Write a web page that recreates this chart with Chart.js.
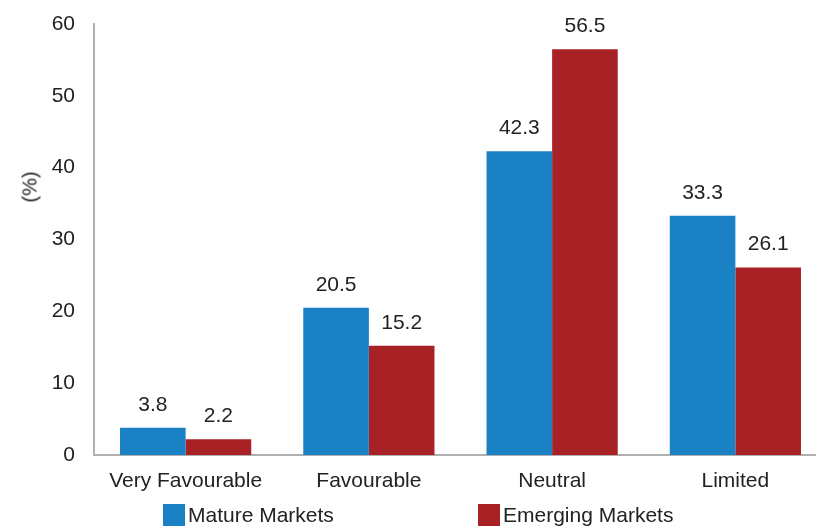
<!DOCTYPE html>
<html>
<head>
<meta charset="utf-8">
<script src="https://cdn.jsdelivr.net/npm/chart.js@4/dist/chart.umd.min.js"></script>
<style>
  html, body { margin: 0; padding: 0; background: #fff; overflow: hidden; }
  #wrap { position: relative; width: 830px; height: 526px; }
  #yTitle {
    position: absolute; left: 30px; top: 187px;
    transform: translate(-50%, -50%) rotate(-90deg);
    font: 20px "Liberation Sans", Arial, sans-serif; color: #222; white-space: nowrap;
  }
  #legend { position: absolute; top: 503px; left: 0; font: 21px "Liberation Sans", Arial, sans-serif; color: #222; }
  #legend span.item { position: absolute; white-space: nowrap; display: flex; align-items: center; }
  #legend i { display: inline-block; width: 22px; height: 22px; margin-right: 3px; }
</style>
</head>
<body>
<div id="wrap">
  <canvas id="marketChart"></canvas>
  <div id="yTitle">(%)</div>
  <div id="legend"></div>
</div>
<script>
const categories = ["Very Favourable", "Favourable", "Neutral", "Limited"];
const matureMarkets = [3.8, 20.5, 42.3, 33.3];
const emergingMarkets = [2.2, 15.2, 56.5, 26.1];
const seriesNames = ["Mature Markets", "Emerging Markets"];
const seriesColors = ["#1b81c5", "#a82125"];
const legendLeft = [163, 478];

const fontFamily = '"Liberation Sans", Arial, sans-serif';

const valueLabels = {
  id: "valueLabels",
  afterDatasetsDraw(chart) {
    const ctx = chart.ctx;
    ctx.save();
    ctx.font = `21px ${fontFamily}`;
    ctx.fillStyle = "#222";
    ctx.textAlign = "center";
    ctx.textBaseline = "middle";
    chart.data.datasets.forEach((ds, i) => {
      chart.getDatasetMeta(i).data.forEach((bar, j) => {
        ctx.fillText(ds.data[j].toFixed(1), bar.x, bar.y - 23);
      });
    });
    ctx.restore();
  }
};

new Chart(document.getElementById("marketChart"), {
  type: "bar",
  data: {
    labels: categories,
    datasets: [
      { label: seriesNames[0], data: matureMarkets, backgroundColor: seriesColors[0] },
      { label: seriesNames[1], data: emergingMarkets, backgroundColor: seriesColors[1] }
    ]
  },
  options: {
    responsive: true,
    maintainAspectRatio: false,
    animation: false,
    layout: { padding: { top: 24, right: 3, left: 0, bottom: 0 } },
    datasets: { bar: { barPercentage: 1, categoryPercentage: 0.716 } },
    plugins: { legend: { display: false }, tooltip: { enabled: false } },
    scales: {
      x: {
        grid: { display: false, drawTicks: false },
        border: { color: "#b0b0b0", width: 2 },
        ticks: { color: "#222", font: { size: 21, family: fontFamily }, padding: 14, maxRotation: 0 },
        afterFit(scale) {
          scale.height = 71;
          scale.paddingLeft = 0;
          scale.paddingRight = 0;
        }
      },
      y: {
        min: 0,
        max: 60,
        grid: { display: false, drawTicks: false },
        border: { color: "#b0b0b0", width: 2 },
        ticks: { stepSize: 10, color: "#222", font: { size: 21, family: fontFamily }, padding: 19 },
        afterFit(scale) {
          scale.width = 94;
          scale.paddingTop = 0;
          scale.paddingBottom = 0;
        }
      }
    }
  },
  plugins: [valueLabels]
});

const legend = document.getElementById("legend");
seriesNames.forEach((name, i) => {
  const item = document.createElement("span");
  item.className = "item";
  item.style.left = legendLeft[i] + "px";
  item.innerHTML = `<i style="background:${seriesColors[i]}"></i>${name}`;
  legend.appendChild(item);
});
</script>
</body>
</html>
